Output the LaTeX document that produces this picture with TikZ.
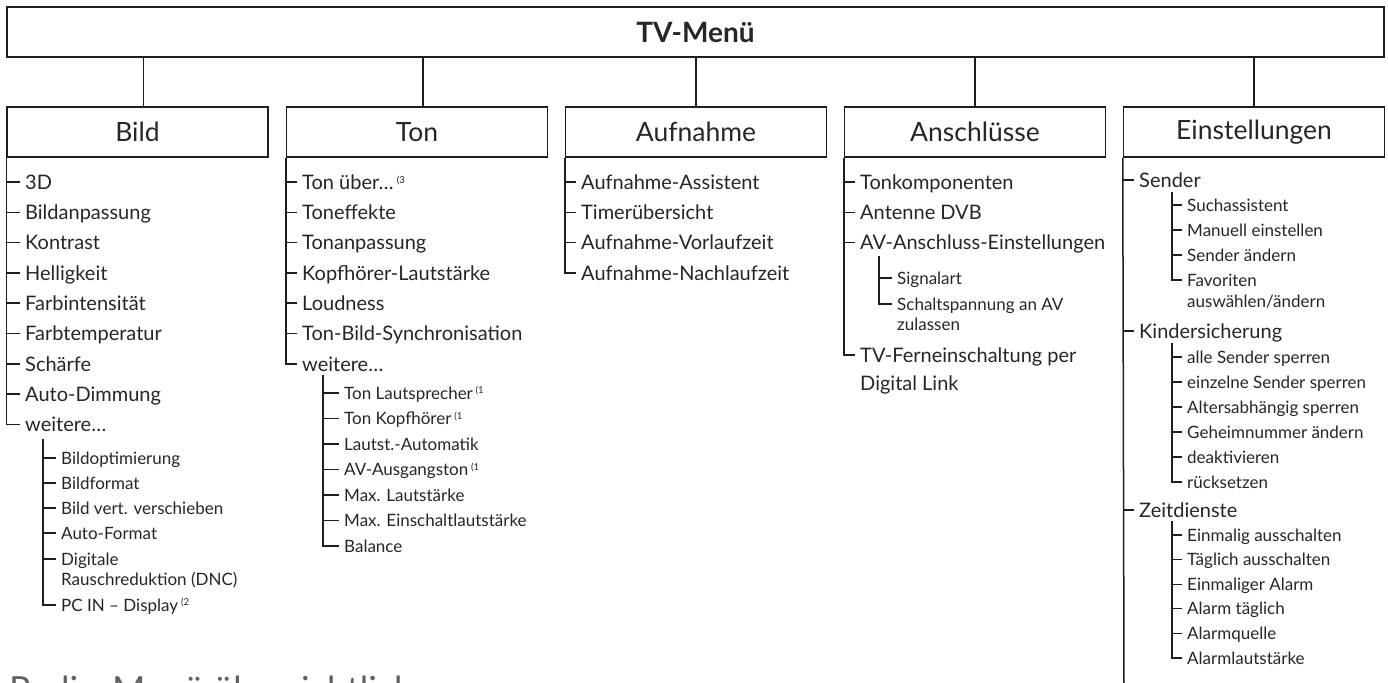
\documentclass[tikz,border=0pt]{standalone}
\usepackage{fontspec}
\setmainfont{Lato}
\definecolor{lc}{HTML}{1E1E1E}
\definecolor{tc}{HTML}{262626}
\newcommand\fnote[1]{\,{\fontsize{9.5}{10}\selectfont\raisebox{5.5pt}{(#1}}}
\begin{document}
\begin{tikzpicture}[x=1pt,y=-1pt,
  topbox/.style={draw=lc, line width=1.5pt, minimum width=1377pt, minimum height=50pt, inner sep=0pt, text=tc, font=\fontsize{28}{32}\selectfont\bfseries},
  catbox/.style={draw=lc, line width=1.5pt, minimum width=261pt, minimum height=50pt, inner sep=0pt, text=tc, font=\fontsize{26.5}{30}\selectfont},
  itm/.style={anchor=west, inner sep=0pt, text=tc, font=\fontsize{20}{24}\selectfont, text height=16pt, text depth=1.6pt},
  sitm/.style={anchor=west, inner sep=0pt, text=tc, font=\fontsize{17}{20}\selectfont, text height=13.4pt, text depth=1.1pt},
  trunk/.style={draw=lc, line width=1.5pt},
  strunk/.style={draw=lc, line width=1.1pt},
  foot/.style={anchor=base west, inner sep=0pt, text=black!62, font=\fontsize{36}{40}\selectfont}
]
\useasboundingbox (0,0) rectangle (1388,682);

% top and category boxes
\node[topbox] (tv) at (695.5,32) {TV-Menü};
\node[catbox] (bild) at (137.5,132) {Bild};
\node[catbox] (ton) at (417,132) {Ton};
\node[catbox] (auf) at (696,132) {Aufnahme};
\node[catbox] (ans) at (975,132) {Anschlüsse};
\node[catbox] (ein) at (1254,132) {Einstellungen};

\draw[trunk] ([xshift=6pt]bild.north) -- ([xshift=6pt]bild.north |- tv.south);
\draw[trunk] ([xshift=6pt]ton.north) -- ([xshift=6pt]ton.north |- tv.south);
\draw[trunk] (auf.north) -- (auf.north |- tv.south);
\draw[trunk] (ans.north) -- (ans.north |- tv.south);
\draw[trunk] (ein.north) -- (ein.north |- tv.south);

% ---------- Bild ----------
\foreach \t [count=\i] in {3D, Bildanpassung, Kontrast, Helligkeit, Farbintensität, Farbtemperatur, Schärfe, Auto-Dimmung, weitere…}
  \node[itm] (b\i) at (25,{182+30.3*(\i-1)}) {\t};
\foreach \i in {1,...,8}
  \draw[trunk] (bild.south west |- b\i.west) -- ([xshift=-5pt]b\i.west);
\draw[trunk] (bild.south west) |- ([xshift=-5pt]b9.west);

\node[sitm] (bs1) at (61,458) {Bildoptimierung};
\node[sitm] (bs2) at (61,483) {Bildformat};
\node[sitm] (bs3) at (61,508) {Bild vert. verschieben};
\node[sitm] (bs4) at (61,533) {Auto-Format};
\node[sitm] (bs5) at (61,559) {Digitale};
\node[sitm] (bs5b) at (61,579) {Rauschreduktion (DNC)};
\node[sitm] (bs6) at (61,605) {PC IN – Display\fnote{2}};
\coordinate (bsT) at ([xshift=18pt,yshift=-15pt]b9.west);
\foreach \i in {1,...,5}
  \draw[strunk] (bsT |- bs\i.west) -- ([xshift=-5pt]bs\i.west);
\draw[strunk] (bsT) |- ([xshift=-5pt]bs6.west);

% ---------- Ton ----------
\foreach \t [count=\i] in {{Ton über…\fnote{3}}, Toneffekte, Tonanpassung, Kopfhörer-Lautstärke, Loudness, Ton-Bild-Synchronisation, weitere…}
  \node[itm] (t\i) at (302,{182+30.3*(\i-1)}) {\t};
\foreach \i in {1,...,6}
  \draw[trunk] (ton.south west |- t\i.west) -- ([xshift=-5pt]t\i.west);
\draw[trunk] (ton.south west) |- ([xshift=-5pt]t7.west);

\foreach \t [count=\i] in {{Ton Lautsprecher\fnote{1}}, {Ton Kopfhörer\fnote{1}}, Lautst.-Automatik, {AV-Ausgangston\fnote{1}}, Max. Lautstärke, Max. Einschaltlautstärke, Balance}
  \node[sitm] (ts\i) at (344,{393+25.5*(\i-1)}) {\t};
\coordinate (tsT) at ([xshift=21pt,yshift=-11pt]t7.west);
\foreach \i in {1,...,6}
  \draw[strunk] (tsT |- ts\i.west) -- ([xshift=-5pt]ts\i.west);
\draw[strunk] (tsT) |- ([xshift=-5pt]ts7.west);

% ---------- Aufnahme ----------
\foreach \t [count=\i] in {Aufnahme-Assistent, Timerübersicht, Aufnahme-Vorlaufzeit, Aufnahme-Nachlaufzeit}
  \node[itm] (a\i) at (581,{182+30.3*(\i-1)}) {\t};
\foreach \i in {1,...,3}
  \draw[trunk] (auf.south west |- a\i.west) -- ([xshift=-5pt]a\i.west);
\draw[trunk] (auf.south west) |- ([xshift=-5pt]a4.west);

% ---------- Anschlüsse ----------
\node[itm] (n1) at (860,182) {Tonkomponenten};
\node[itm] (n2) at (860,212.3) {Antenne DVB};
\node[itm] (n3) at (860,242.6) {AV-Anschluss-Einstellungen};
\node[itm] (n4) at (860,355) {TV-Ferneinschaltung per};
\node[itm] (n4b) at (860,383) {Digital Link};
\foreach \i in {1,...,3}
  \draw[trunk] (ans.south west |- n\i.west) -- ([xshift=-5pt]n\i.west);
\draw[trunk] (ans.south west) |- ([xshift=-5pt]n4.west);

\node[sitm] (ns1) at (897,278) {Signalart};
\node[sitm] (ns2) at (897,304) {Schaltspannung an AV};
\node[sitm] (ns2b) at (897,324) {zulassen};
\coordinate (nsT) at ([xshift=19pt,yshift=-13.4pt]n3.west);
\draw[strunk] (nsT |- ns1.west) -- ([xshift=-5pt]ns1.west);
\draw[strunk] (nsT) |- ([xshift=-5pt]ns2.west);

% ---------- Einstellungen ----------
\node[itm] (e1) at (1139,180) {Sender};
\node[itm] (e2) at (1139,331) {Kindersicherung};
\node[itm] (e3) at (1139,510) {Zeitdienste};
\coordinate (eEnd) at (1124,690);
\foreach \i in {1,...,3}
  \draw[trunk] (ein.south west |- e\i.west) -- ([xshift=-5pt]e\i.west);
\draw[trunk] (ein.south west) -- (eEnd);

% Sender group
\foreach \t [count=\i] in {Suchassistent, Manuell einstellen, Sender ändern, Favoriten}
  \node[sitm] (es\i) at (1187,{205+25*(\i-1)}) {\t};
\node[sitm] (es4b) at (1187,301) {auswählen/ändern};
\coordinate (esT) at ([xshift=33pt,yshift=-12pt]e1.west);
\foreach \i in {1,...,3}
  \draw[strunk] (esT |- es\i.west) -- ([xshift=-5pt]es\i.west);
\draw[strunk] (esT) |- ([xshift=-5pt]es4.west);

% Kindersicherung group
\foreach \t [count=\i] in {alle Sender sperren, einzelne Sender sperren, Altersabhängig sperren, Geheimnummer ändern, deaktivieren, rücksetzen}
  \node[sitm] (ek\i) at (1187,{357+25*(\i-1)}) {\t};
\coordinate (ekT) at ([xshift=33pt,yshift=-12pt]e2.west);
\foreach \i in {1,...,5}
  \draw[strunk] (ekT |- ek\i.west) -- ([xshift=-5pt]ek\i.west);
\draw[strunk] (ekT) |- ([xshift=-5pt]ek6.west);

% Zeitdienste group
\foreach \t [count=\i] in {Einmalig ausschalten, Täglich ausschalten, Einmaliger Alarm, Alarm täglich, Alarmquelle, Alarmlautstärke}
  \node[sitm] (ez\i) at (1187,{535+24.6*(\i-1)}) {\t};
\coordinate (ezT) at ([xshift=33pt,yshift=-11pt]e3.west);
\foreach \i in {1,...,5}
  \draw[strunk] (ezT |- ez\i.west) -- ([xshift=-5pt]ez\i.west);
\draw[strunk] (ezT) |- ([xshift=-5pt]ez6.west);

% cut-off heading at the bottom
\node[foot] (radio) at (9,702) {Radio-Menü übersichtlich};
\end{tikzpicture}
\end{document}
